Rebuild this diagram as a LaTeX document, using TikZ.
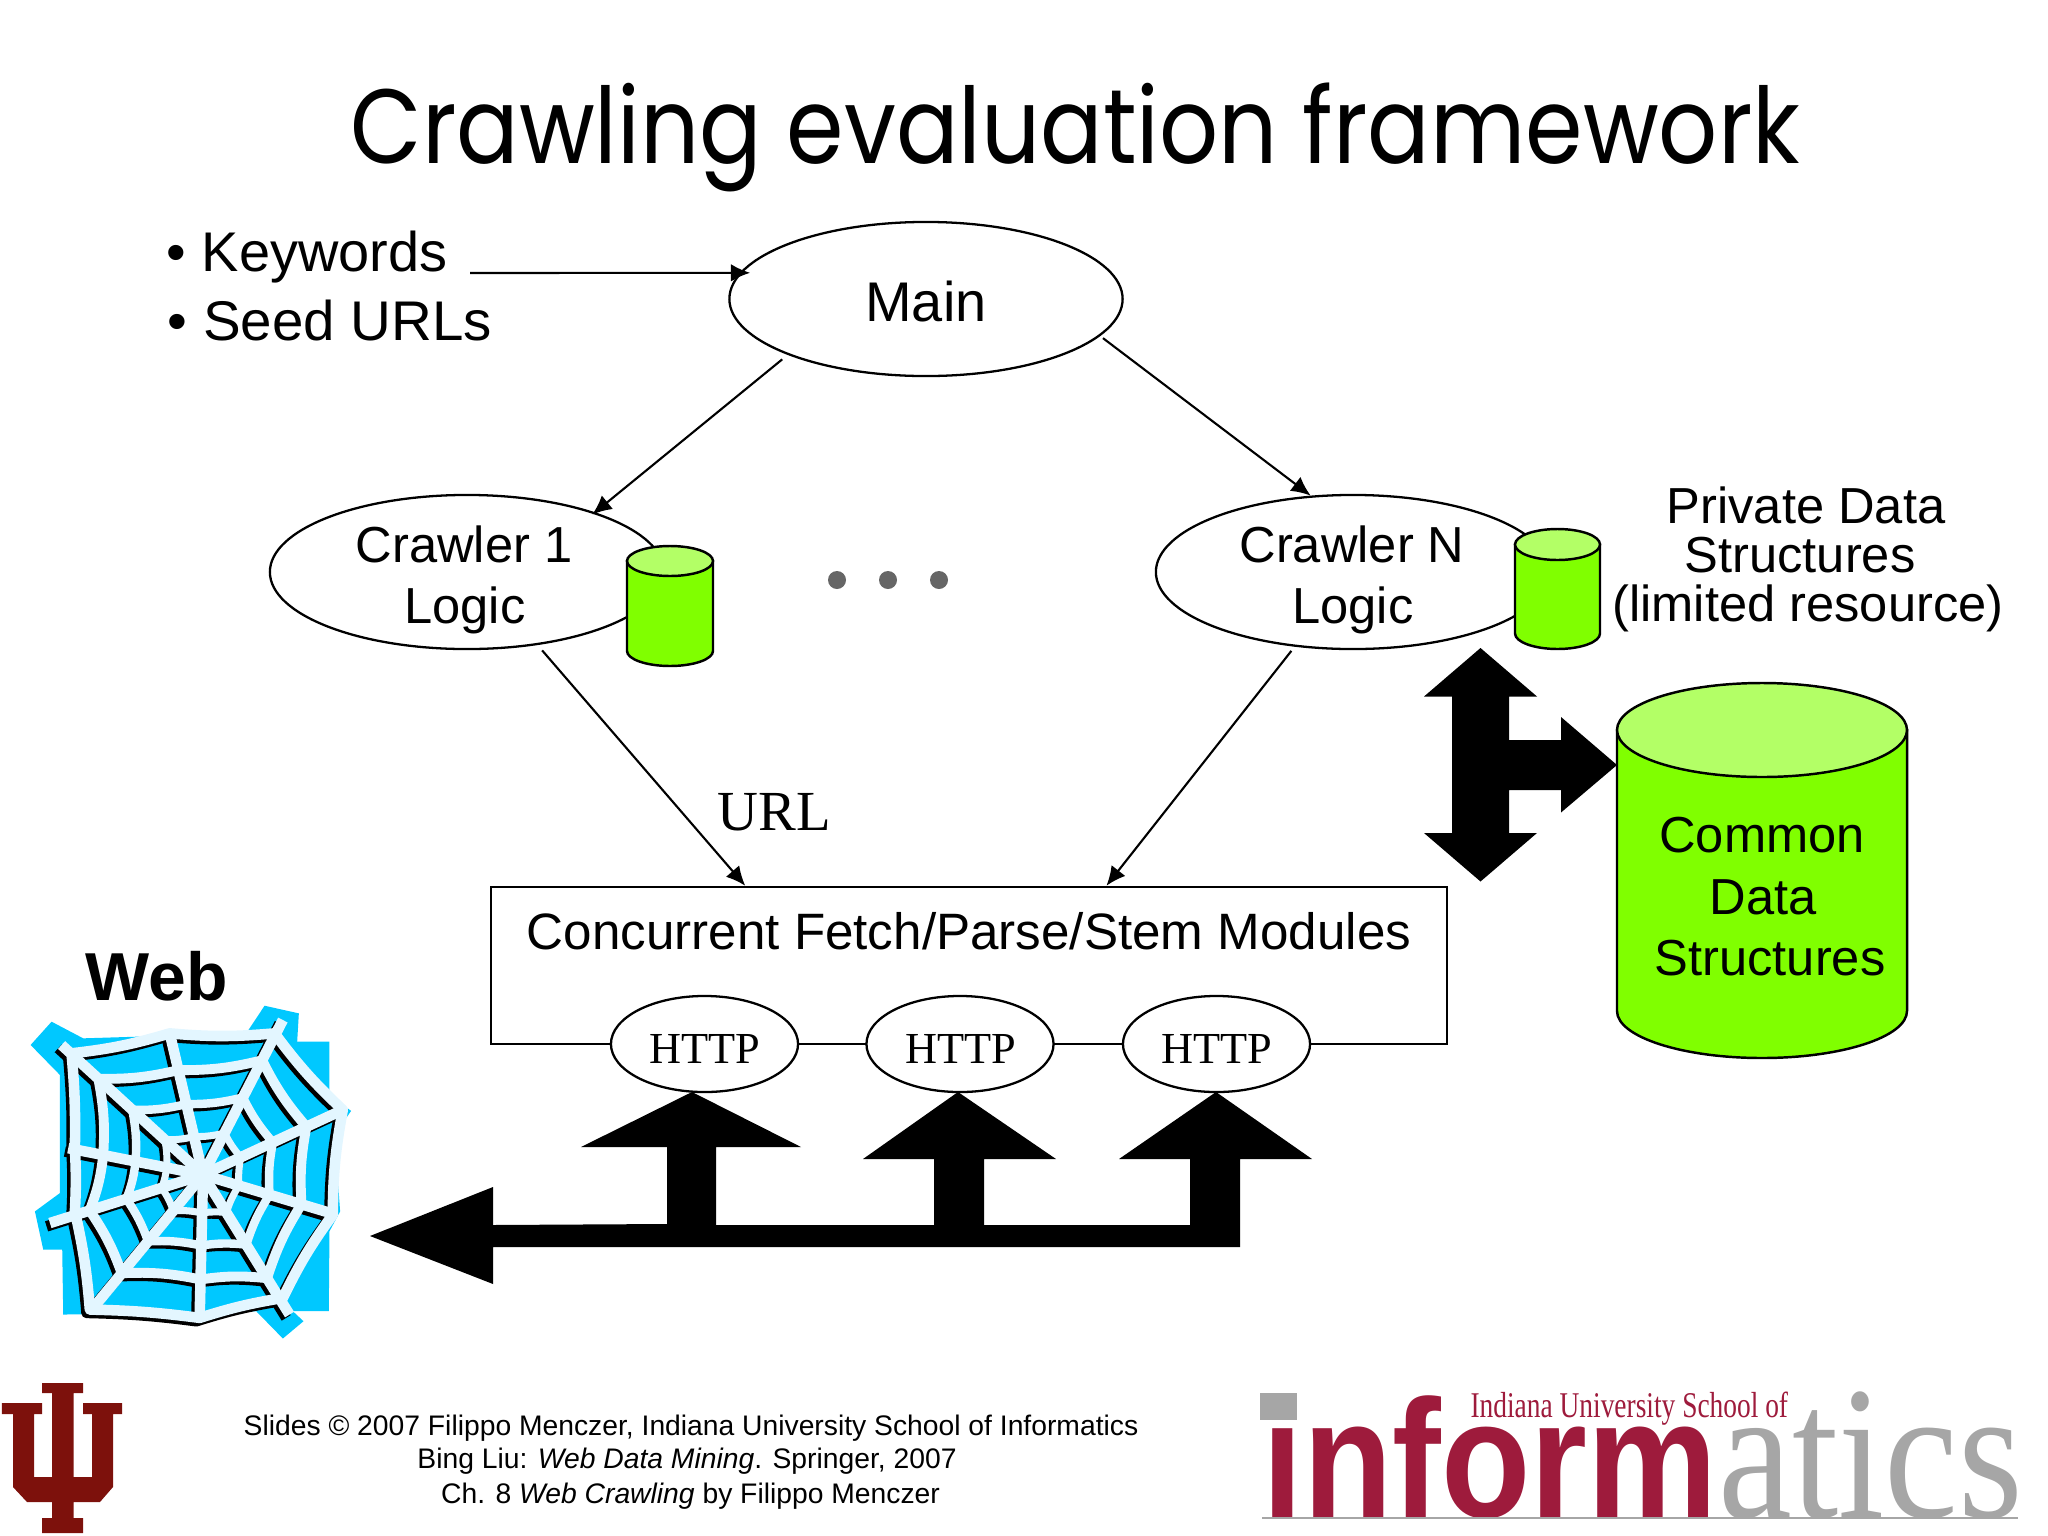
\documentclass[tikz,border=0pt]{standalone}
\usepackage{fontspec}
\usetikzlibrary{arrows.meta,shapes.geometric,calc}
\setmainfont{Liberation Sans}
\newfontfamily\serifbody{Liberation Serif}
\newfontfamily\titlefont{Poppins}
\definecolor{cylbody}{HTML}{80FF00}
\definecolor{cyltop}{HTML}{B3FF66}
\definecolor{webblue}{HTML}{00C8FF}
\definecolor{webline}{HTML}{E3F6FF}
\definecolor{iured}{HTML}{7D110C}
\definecolor{logored}{HTML}{9E1B3C}
\definecolor{logogrey}{HTML}{A6A6A6}
\newcommand{\myfs}[1]{\fontsize{#1}{#1}\selectfont}
\newcommand{\dbcyl}[5]{% x0,x1,ytop,ybot,ry
  \pgfmathsetmacro{\cx}{(#1+#2)/2}\pgfmathsetmacro{\rx}{(#2-#1)/2}
  \filldraw[cylline,fill=cylbody] (#1,#3+#5) -- (#1,#4-#5)
     .. controls (#1,#4-0.45*#5) and (\cx-0.55*\rx,#4) .. (\cx,#4)
     .. controls (\cx+0.55*\rx,#4) and (#2,#4-0.45*#5) .. (#2,#4-#5) -- (#2,#3+#5) -- cycle;
  \filldraw[cylline,fill=cyltop] (\cx,#3+#5) ellipse[x radius=\rx,y radius=#5];
}
\newcommand{\weblayer}[1]{%
  \foreach \xa/\ya in {185/380,510/345,850/305,1030/575,1010/890,870/1190,600/1195,280/1170,150/915,205/690}{
    \draw[#1,line width=3.0pt] (610,770) -- (\xa,\ya);
  }
  \foreach \f/\w in {0.74/2.8,0.5/2.4,0.27/2.0}{
    \foreach \xa/\ya/\xb/\yb in {185/380/510/345,510/345/850/305,850/305/1030/575,1030/575/1010/890,1010/890/870/1190,870/1190/600/1195,600/1195/280/1170,280/1170/150/915,150/915/205/690,205/690/185/380}{
      \draw[#1,line width=\w pt] ({610+\f*(\xa-610)},{770+\f*(\ya-770)}) to[bend right=7] ({610+\f*(\xb-610)},{770+\f*(\yb-770)});
    }
  }
  \draw[#1,line width=3pt,line join=round] (215,405) to[bend right=5] (510,345) to[bend right=5] (825,345) to[bend right=5] (1030,575) to[bend right=5] (1000,890) to[bend right=5] (850,1140) to[bend right=4] (600,1200) to[bend right=3] (270,1175) to[bend right=4] (225,880) to[bend right=3] (225,690) to[bend right=3] (215,405);
}
\tikzset{
  cylline/.style={draw=black,line width=0.7pt},
  oval/.style={ellipse,draw=black,fill=white,line width=0.65pt,inner sep=0pt},
  crawleroval/.style={oval,minimum width=3.94cm,minimum height=1.54cm},
  httpoval/.style={oval,minimum width=1.87cm,minimum height=0.96cm},
  arr/.style={line width=0.6pt,-{Latex[length=5.5pt,width=5pt]}},
  body/.style={anchor=base,inner sep=0pt,font=\myfs{14.4}},
  bigfont/.style={anchor=base,inner sep=0pt,font=\myfs{15.9}},
  httptext/.style={anchor=base,inner sep=0pt,font=\serifbody\myfs{12.6}},
  foot/.style={anchor=base,inner sep=0pt,font=\myfs{8.04}},
  heavy/.style={fill=black},
  gdot/.style={circle,fill=black!60,inner sep=0pt,minimum size=0.18cm}
}
\begin{document}
\begin{tikzpicture}[x=0.01cm,y=-0.01cm]
\useasboundingbox (0,0) rectangle (2048,1536);
% title
\node[anchor=base west,inner sep=0pt,font=\titlefont\myfs{30},xscale=0.877] (title) at (350,163) {Crawling evaluation framework};
% bullets
\node[bigfont,anchor=base west] (kw) at (166,271) {• Keywords};
\node[bigfont,anchor=base west,xscale=1.01] (seed) at (167,340) {• Seed URLs};
% ovals
\node[oval,minimum width=3.93cm,minimum height=1.54cm] (main) at (926,299) {};
\node[bigfont] (mainl) at (926,321) {Main};
\node[crawleroval] (c1) at (467,572) {};
\node[crawleroval] (cn) at (1353,572) {};
\node[body] (c1a) at (464,562) {Crawler 1};
\node[body] (c1b) at (465,623) {Logic};
\node[body] (cna) at (1352,562) {Crawler N};
\node[body] (cnb) at (1353,623) {Logic};
% private cylinders
\dbcyl{627}{713}{546}{666}{15}
\dbcyl{1515}{1600}{529}{649}{15.5}
% dots
\node[gdot] (d1) at (837,580) {};
\node[gdot] (d2) at (888,580) {};
\node[gdot] (d3) at (939,580) {};
% private label
\node[body] (p1) at (1806,523) {Private Data};
\node[body] (p2) at (1800,572) {Structures};
\node[body] (p3) at (1808,621) {(limited resource)};
% common
\dbcyl{1617}{1907}{683}{1058}{47}
\node[body] (co1) at (1762,852) {Common};
\node[body] (co2) at (1763,914) {Data};
\node[body] (co3) at (1770,975) {Structures};
% modules box
\node[draw=black,line width=0.65pt,fill=white,minimum width=9.56cm,minimum height=1.57cm,inner sep=0pt] (box) at (969,965.5) {};
\node[body,font=\myfs{14.55}] (boxl) at (969,949) {Concurrent Fetch/Parse/Stem Modules};
\node[httpoval] (h1) at (704.5,1044) {};
\node[httpoval] (h2) at (960,1044) {};
\node[httpoval] (h3) at (1216.5,1044) {};
\node[httptext] (h1l) at (705,1063) {HTTP};
\node[httptext] (h2l) at (961,1063) {HTTP};
\node[httptext] (h3l) at (1217,1063) {HTTP};
% connectors
\coordinate (kwtail) at (470,273);
\draw[arr,shorten >=-3pt] (kwtail) -- (main.172);
\draw[arr,shorten <=2pt,shorten >=-1pt] (main.202) -- (c1.25.5);
\draw[arr,shorten <=1pt] (main.348) -- (cn.119.4);
\draw[arr,shorten <=2pt] (c1.-46.5) -- ($(box.north west)!0.2667!(box.north east)$);
\draw[arr,shorten <=1.5pt] (cn.232) -- ($(box.north west)!0.6433!(box.north east)$);
\node[anchor=base west,inner sep=0pt,font=\serifbody\myfs{16.1}] (url) at (717,830) {URL};
% heavy arrows
\fill[heavy] (370,1236) -- (493,1187) -- (493,1225) -- (667,1224) -- (667,1147) -- (581,1147) -- (692,1092) -- (801,1147) -- (716,1147) -- (716,1225) -- (934,1225) -- (934,1159) -- (863,1159) -- (958,1092) -- (1056,1159) -- (984,1159) -- (984,1225) -- (1190,1225) -- (1190,1159) -- (1119,1159) -- (1216,1092) -- (1312,1159) -- (1240,1159) -- (1240,1247) -- (493,1247) -- (493,1284) -- cycle;
\fill[heavy] (1480.5,648) -- (1537,696.5) -- (1509,696.5) -- (1509,740) -- (1561,740) -- (1561,717) -- (1617,765) -- (1561,812.5) -- (1561,790) -- (1509,790) -- (1509,833) -- (1537,833) -- (1480.5,881.5) -- (1424,833) -- (1452,833) -- (1452,696.5) -- (1424,696.5) -- cycle;
% web
\node[anchor=base west,inner sep=0pt,font=\bfseries\myfs{19.3}] (webl) at (85,1000) {Web};
\begin{scope}[x=0.003333cm,y=-0.003333cm,shift={(0,2760)}]
\fill[webblue] (92,380) -- (155,310) -- (250,360) -- (740,345) -- (795,262) -- (898,285) -- (893,370) -- (990,370) -- (990,530) -- (1055,578) -- (1005,650) -- (1022,880) -- (990,940) -- (988,1180) -- (880,1180) -- (912,1210) -- (850,1262) -- (770,1180) -- (190,1190) -- (187,995) -- (130,995) -- (105,880) -- (180,825) -- (180,470) -- cycle;
\begin{scope}[shift={(-10,10)}]
\weblayer{black}
\end{scope}
\weblayer{webline}
\fill[webline] (610,770) circle[radius=30];
\end{scope}
% footer
\node[foot] (f1) at (691,1435) {Slides © 2007 Filippo Menczer, Indiana University School of Informatics};
\node[foot] (f2) at (687,1468) {Bing Liu: \textit{Web Data Mining}. Springer, 2007};
\node[foot] (f3) at (690.5,1503) {Ch. 8 \textit{Web Crawling} by Filippo Menczer};
% IU trident
\fill[iured] (42,1383) -- (83,1383) -- (83,1393) -- (73.5,1393) -- (73.5,1477) -- (92,1477) -- (92,1414) -- (83,1414) -- (83,1403) -- (122,1403) -- (122,1414) -- (113,1414) -- (113,1487) -- (100,1502) -- (73.5,1502) -- (73.5,1518) -- (83,1518) -- (83,1533) -- (42,1533) -- (42,1518) -- (52,1518) -- (52,1502) -- (27,1502) -- (13,1487) -- (13,1414) -- (2,1414) -- (2,1403) -- (42,1403) -- (42,1414) -- (34,1414) -- (34,1477) -- (52,1477) -- (52,1393) -- (42,1393) -- cycle;
% informatics logo
\node[anchor=base west,inner sep=0pt,text=logored,font=\bfseries\myfs{47.8},xscale=0.87] (inf) at (1262,1517) {inform};
\fill[logogrey] (1260,1393) rectangle (1297,1420);
\node[anchor=base west,inner sep=0pt,text=logogrey,font=\serifbody\myfs{54},xscale=0.875] (atics) at (1718,1517) {atics};
\draw[logogrey,line width=0.4pt] (1262,1518) -- (2018,1518);
\node[anchor=base west,inner sep=0pt,text=logored,font=\serifbody\myfs{10.3},xscale=0.757] (iusch) at (1470,1417) {Indiana University School of};
\end{tikzpicture}
\end{document}
